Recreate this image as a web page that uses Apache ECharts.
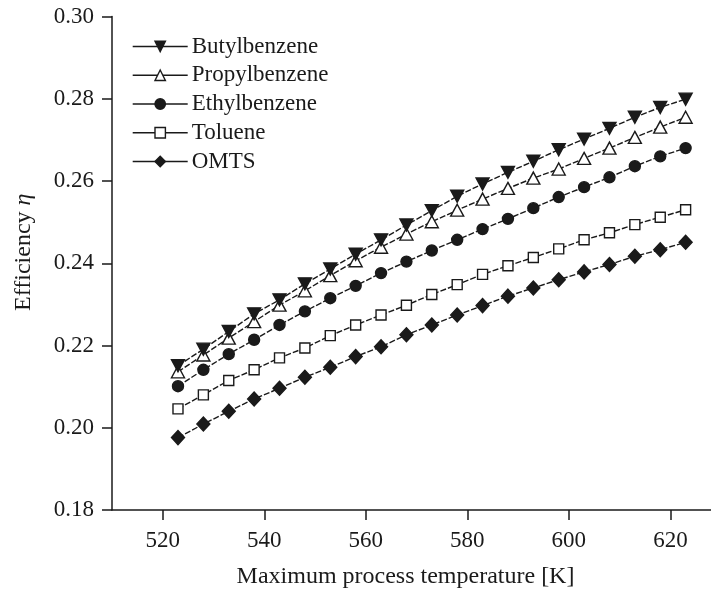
<!DOCTYPE html>
<html>
<head>
<meta charset="utf-8">
<script src="https://cdn.jsdelivr.net/npm/echarts@6/dist/echarts.min.js"></script>
<style>
  html, body { margin: 0; padding: 0; background: #fff; }
  #chart { width: 711px; height: 594px; }
</style>
</head>
<body>
<div id="chart"></div>
<script>
// Maximum process temperature [K]
const temperatures = [523, 528, 533, 538, 543, 548, 553, 558, 563, 568, 573,
                      578, 583, 588, 593, 598, 603, 608, 613, 618, 623];

// Cycle efficiency for each working fluid
const butylbenzene = [0.2151, 0.2191, 0.2234, 0.2277, 0.2311, 0.2350, 0.2386, 0.2422, 0.2457, 0.2493, 0.2528,
                      0.2563, 0.2593, 0.2621, 0.2648, 0.2676, 0.2702, 0.2728, 0.2755, 0.2779, 0.2799];
const propylbenzene = [0.2136, 0.2177, 0.2218, 0.2258, 0.2298, 0.2333, 0.2370, 0.2406, 0.2439, 0.2471, 0.2501,
                       0.2529, 0.2556, 0.2582, 0.2607, 0.2629, 0.2655, 0.2680, 0.2706, 0.2731, 0.2755];
const ethylbenzene = [0.2101, 0.2141, 0.2179, 0.2214, 0.2250, 0.2283, 0.2315, 0.2345, 0.2376, 0.2404, 0.2431,
                      0.2457, 0.2483, 0.2508, 0.2534, 0.2561, 0.2585, 0.2609, 0.2636, 0.2660, 0.2680];
const toluene = [0.2046, 0.2080, 0.2115, 0.2141, 0.2170, 0.2194, 0.2224, 0.2250, 0.2274, 0.2298, 0.2324,
                 0.2348, 0.2373, 0.2394, 0.2414, 0.2435, 0.2457, 0.2474, 0.2494, 0.2512, 0.2530];
const omts = [0.1976, 0.2009, 0.2040, 0.2070, 0.2096, 0.2123, 0.2147, 0.2173, 0.2197, 0.2226, 0.2250,
              0.2274, 0.2297, 0.2320, 0.2340, 0.2360, 0.2379, 0.2397, 0.2417, 0.2433, 0.2451];

const seriesNames = ['Butylbenzene', 'Propylbenzene', 'Ethylbenzene', 'Toluene', 'OMTS'];
const xTickValues = [520, 540, 560, 580, 600, 620];

const FONT = '"Liberation Serif", "DejaVu Serif", serif';
const INK = '#1a1a1a';

const markerStyles = [
  { symbol: 'path://M0,0 L10,0 L5,9 Z', size: [13, 12], fill: INK },
  { symbol: 'triangle', size: [13, 12], fill: '#fff' },
  { symbol: 'circle', size: 11, fill: INK },
  { symbol: 'rect', size: 10, fill: '#fff' },
  { symbol: 'diamond', size: [13, 14], fill: INK }
];
const seriesValues = [butylbenzene, propylbenzene, ethylbenzene, toluene, omts];

const series = seriesNames.map((name, i) => ({
  name: name,
  type: 'line',
  data: temperatures.map((t, j) => [t, seriesValues[i][j]]),
  symbol: markerStyles[i].symbol,
  symbolSize: markerStyles[i].size,
  showAllSymbol: true,
  lineStyle: { color: INK, width: 1.4, type: [6, 2] },
  itemStyle: { color: markerStyles[i].fill, borderColor: INK, borderWidth: 1.4 },
  emphasis: { disabled: true },
  animation: false,
  z: 10 - i
}));

const chart = echarts.init(document.getElementById('chart'), null, { renderer: 'canvas' });
chart.setOption({
  backgroundColor: '#fff',
  animation: false,
  grid: { left: 112, right: 0, top: 16.5, bottom: 84 },
  legend: {
    orient: 'vertical',
    left: 127,
    top: 30,
    itemWidth: 55,
    itemHeight: 13,
    itemGap: 5.75,
    data: seriesNames.map((n, i) => ({
      name: n,
      itemStyle: { color: markerStyles[i].fill, borderColor: INK, borderWidth: 1.4 },
      lineStyle: { color: INK, width: 1.4, type: 'solid' }
    })),
    textStyle: { fontFamily: FONT, fontSize: 23, lineHeight: 23, color: INK, padding: [0, 0, 0, -1] },
    selectedMode: false
  },
  xAxis: {
    type: 'value',
    min: 510,
    max: 628,
    name: 'Maximum process temperature [K]',
    nameLocation: 'middle',
    nameGap: 55,
    nameTextStyle: { fontFamily: FONT, fontSize: 24, color: INK, padding: [0, 12, 0, 0] },
    splitLine: { show: false },
    axisLine: { lineStyle: { color: INK, width: 1.5 } },
    axisTick: { show: true, customValues: xTickValues, length: 10, lineStyle: { color: INK, width: 1.5 } },
    axisLabel: { customValues: xTickValues, margin: 19, fontFamily: FONT, fontSize: 23, color: INK }
  },
  yAxis: {
    type: 'value',
    min: 0.18,
    max: 0.30,
    interval: 0.02,
    name: '{a|Efficiency }{b|η}',
    nameLocation: 'middle',
    nameGap: 76,
    nameRotate: 90,
    nameTextStyle: {
      padding: [0, 0, 0, 22],
      rich: {
        a: { fontFamily: FONT, fontSize: 24, color: INK },
        b: { fontFamily: FONT, fontSize: 24, color: INK, fontStyle: 'italic' }
      }
    },
    splitLine: { show: false },
    axisLine: { show: true, lineStyle: { color: INK, width: 1.5 } },
    axisTick: { show: true, length: 10, lineStyle: { color: INK, width: 1.5 } },
    axisLabel: {
      margin: 18, fontFamily: FONT, fontSize: 23, color: INK,
      formatter: v => v.toFixed(2)
    }
  },
  series: series
});
</script>
</body>
</html>
